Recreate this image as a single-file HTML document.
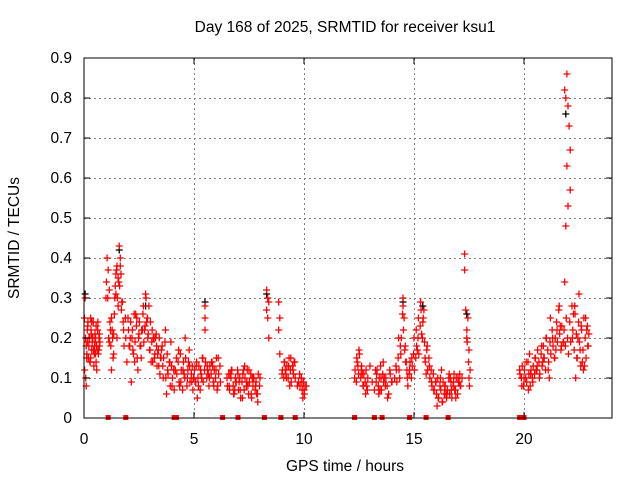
<!DOCTYPE html>
<html><head><meta charset="utf-8"><style>
body{margin:0;background:#fff;}
svg{display:block;font-family:"Liberation Sans",sans-serif;}
</style></head><body>
<svg id="chart" width="640" height="480">
<rect width="640" height="480" fill="#fff"/>
<g id="grid"></g><g id="marks"></g><g id="axes"></g>
<text x="345" y="32" font-size="15.5" text-anchor="middle">Day 168 of 2025, SRMTID for receiver ksu1</text>
<text x="345" y="471" font-size="15.5" text-anchor="middle">GPS time / hours</text>
<text transform="translate(19,238) rotate(-90)" font-size="15.5" text-anchor="middle">SRMTID / TECUs</text>
</svg>
<script>
const xTicks=[0,5,10,15,20];
const yTicks=[0,0.1,0.2,0.3,0.4,0.5,0.6,0.7,0.8,0.9];
const redTimes=[0.05,0.1,0.15,0.2,0.25,0.3,0.35,0.4,0.45,0.5,0.55,0.6,0.65,0.7,0.08,0.18,0.28,0.38,0.48,0.58,0.68,0.12,0.32,0.52,
1.0,1.05,1.1,1.15,1.2,1.25,1.3,1.4,1.45,1.5,1.55,1.6,1.65,1.7,1.75,1.8,1.35,1.52,1.62,1.72,1.9,1.95,
2.0,2.1,2.2,2.3,2.4,2.5,2.6,2.7,2.8,2.9,3.0,3.1,3.2,3.3,3.4,2.15,2.35,2.55,2.75,2.95,3.15,3.35,2.05,2.45,2.85,3.25,
3.5,3.6,3.7,3.8,3.9,4.0,4.1,4.2,4.3,4.4,4.5,4.6,4.7,4.8,4.9,3.55,3.75,3.95,4.15,4.35,4.55,4.75,4.95,
5.0,5.1,5.2,5.3,5.4,5.5,5.5,5.5,5.6,5.7,5.8,5.9,6.0,6.1,6.2,5.15,5.35,5.65,5.85,6.05,
6.5,6.6,6.7,6.8,6.9,7.0,7.1,7.2,7.3,7.4,7.5,7.6,7.7,7.8,7.9,8.0,6.65,6.85,7.05,7.25,7.45,7.65,7.85,
8.3,8.3,8.35,8.35,8.4,8.4,8.85,8.85,8.9,8.9,9.0,9.1,9.2,9.3,9.4,9.5,9.6,9.7,9.8,9.9,10.0,10.1,9.15,9.35,9.55,9.75,9.95,
12.3,12.4,12.5,12.6,12.7,12.8,12.9,13.0,13.1,13.2,13.3,13.4,13.5,13.6,13.7,13.8,13.9,14.0,12.45,12.65,12.85,13.25,13.45,13.65,13.85,
14.2,14.3,14.4,14.5,14.5,14.55,14.6,14.7,14.8,14.9,15.0,15.1,15.2,15.3,15.4,15.45,15.5,15.6,15.7,15.8,14.35,14.65,15.15,15.35,15.55,
15.9,16.0,16.1,16.2,16.3,16.4,16.5,16.6,16.7,16.8,16.9,17.0,17.1,16.05,16.25,16.45,16.65,16.85,17.05,
17.3,17.3,17.35,17.4,17.4,17.45,17.5,17.5,17.55,
19.8,19.9,20.0,20.1,20.2,20.3,20.4,20.5,20.6,20.7,20.8,20.9,21.0,21.1,21.2,21.3,21.4,21.5,21.6,21.7,20.25,20.55,20.85,21.15,21.45,21.65,
21.8,21.85,21.9,21.9,21.95,21.95,22.0,22.0,22.05,22.1,22.1,21.85,
22.2,22.3,22.4,22.5,22.6,22.7,22.8,22.9,22.25,22.45,22.65,22.85,22.35,22.55,22.75];
const redValues=[0.3,0.18,0.22,0.15,0.2,0.25,0.17,0.2,0.13,0.19,0.23,0.17,0.16,0.21,0.1,0.24,0.14,0.2,0.18,0.12,0.2,0.15,0.22,0.16,
0.3,0.4,0.37,0.32,0.22,0.25,0.2,0.3,0.36,0.38,0.35,0.43,0.4,0.27,0.29,0.22,0.16,0.3,0.33,0.29,0.2,0.14,
0.25,0.2,0.22,0.14,0.25,0.21,0.15,0.28,0.31,0.2,0.17,0.22,0.15,0.18,0.13,0.09,0.26,0.18,0.22,0.28,0.2,0.16,0.18,0.12,0.24,0.2,
0.15,0.1,0.22,0.12,0.14,0.08,0.07,0.15,0.17,0.09,0.12,0.2,0.1,0.13,0.09,0.18,0.06,0.19,0.12,0.08,0.11,0.14,0.07,
0.1,0.13,0.08,0.12,0.15,0.28,0.22,0.25,0.13,0.1,0.14,0.08,0.12,0.15,0.09,0.05,0.1,0.11,0.13,0.07,
0.1,0.08,0.12,0.06,0.09,0.11,0.07,0.05,0.13,0.09,0.12,0.06,0.1,0.08,0.04,0.1,0.11,0.07,0.09,0.12,0.08,0.1,0.06,
0.32,0.27,0.3,0.25,0.29,0.2,0.29,0.22,0.25,0.16,0.11,0.14,0.1,0.13,0.15,0.12,0.1,0.08,0.11,0.09,0.07,0.08,0.12,0.08,0.14,0.09,0.05,
0.1,0.15,0.17,0.12,0.08,0.06,0.1,0.13,0.09,0.07,0.11,0.06,0.1,0.14,0.08,0.05,0.12,0.09,0.13,0.11,0.08,0.12,0.07,0.1,0.06,
0.12,0.2,0.16,0.3,0.28,0.25,0.18,0.1,0.12,0.15,0.2,0.22,0.25,0.29,0.24,0.27,0.15,0.18,0.13,0.09,0.1,0.14,0.17,0.21,0.11,
0.07,0.09,0.05,0.1,0.04,0.08,0.06,0.11,0.07,0.09,0.05,0.1,0.08,0.03,0.12,0.06,0.1,0.07,0.09,
0.41,0.37,0.27,0.22,0.2,0.25,0.17,0.1,0.12,
0.12,0.08,0.1,0.14,0.07,0.11,0.09,0.15,0.13,0.1,0.18,0.15,0.2,0.12,0.25,0.2,0.15,0.22,0.28,0.18,0.16,0.12,0.14,0.1,0.17,0.23,
0.19,0.34,0.8,0.48,0.86,0.63,0.78,0.53,0.73,0.67,0.57,0.82,
0.2,0.28,0.15,0.31,0.23,0.12,0.25,0.18,0.26,0.2,0.14,0.22,0.1,0.17,0.13];
const extraTimes=[0.02,0.07,0.13,0.17,0.22,0.27,0.33,0.37,0.42,0.47,0.53,0.57,0.62,0.67,0.72,0.03,0.23,0.43,0.63,0.1,0.3,0.5,0.7,0.15,0.35,0.55,
1.02,1.08,1.12,1.18,1.22,1.28,1.32,1.38,1.42,1.48,1.58,1.68,1.78,1.82,1.88,1.15,1.35,1.45,1.55,1.65,1.25,1.5,
2.02,2.08,2.12,2.18,2.22,2.28,2.32,2.38,2.42,2.48,2.52,2.58,2.62,2.68,2.72,2.78,2.82,2.88,2.92,2.98,3.02,3.08,3.12,3.18,3.22,3.28,3.32,3.38,3.42,3.48,2.25,2.65,3.05,3.45,
3.52,3.58,3.62,3.68,3.72,3.78,3.82,3.88,3.92,3.98,4.02,4.08,4.22,4.28,4.32,4.38,4.42,4.48,4.52,4.58,4.62,4.68,4.72,4.78,4.82,4.88,4.92,4.98,
5.02,5.08,5.12,5.18,5.22,5.28,5.32,5.38,5.42,5.48,5.52,5.58,5.62,5.68,5.72,5.78,5.82,5.88,5.92,5.98,6.02,6.08,6.12,6.18,
6.52,6.58,6.62,6.68,6.72,6.78,6.82,6.88,6.92,6.98,7.02,7.08,7.12,7.18,7.22,7.28,7.32,7.38,7.42,7.48,7.52,7.58,7.62,7.68,7.72,7.78,7.82,7.88,7.92,7.98,
9.02,9.08,9.12,9.18,9.22,9.28,9.32,9.38,9.42,9.48,9.52,9.58,9.82,9.88,9.92,9.98,10.02,10.08,
12.32,12.38,12.42,12.48,12.52,12.58,12.62,12.68,12.72,12.78,12.82,12.88,13.28,13.32,13.38,13.42,13.48,13.52,13.58,13.62,13.72,13.78,13.92,13.98,
14.12,14.18,14.22,14.28,14.32,14.38,14.42,14.48,14.52,14.58,14.62,14.68,14.72,14.78,14.82,14.88,14.92,14.98,15.02,15.08,15.12,15.18,15.22,15.28,15.32,15.38,15.42,15.48,15.52,15.58,15.62,15.68,15.72,15.78,
15.82,15.88,15.92,15.98,16.02,16.08,16.12,16.18,16.22,16.28,16.32,16.38,16.42,16.48,16.52,16.58,16.62,16.68,16.72,16.78,16.82,16.88,16.92,16.98,17.02,17.08,17.12,17.18,17.42,17.48,17.52,
19.82,19.88,19.92,19.98,20.02,20.08,20.12,20.18,20.22,20.28,20.32,20.38,20.42,20.48,20.52,20.58,20.62,20.68,20.72,20.78,20.82,20.88,20.92,20.98,21.02,21.08,21.12,21.18,21.22,21.28,21.32,21.38,21.42,21.48,21.52,21.58,21.62,21.68,21.72,21.78,
21.82,21.88,21.92,21.98,22.02,22.08,22.12,22.18,22.22,22.28,22.32,22.38,22.42,22.48,22.52,22.58,22.62,22.68,22.72,22.78,22.82,22.88,22.92,22.95];
const extraValues=[0.25,0.2,0.16,0.23,0.18,0.14,0.21,0.19,0.24,0.16,0.2,0.18,0.22,0.17,0.19,0.12,0.2,0.17,0.24,0.08,0.15,0.21,0.18,0.19,0.24,0.14,
0.34,0.3,0.2,0.24,0.18,0.22,0.15,0.26,0.33,0.37,0.34,0.36,0.24,0.18,0.25,0.19,0.21,0.31,0.28,0.38,0.12,0.2,
0.22,0.18,0.24,0.2,0.17,0.26,0.19,0.23,0.15,0.2,0.24,0.18,0.22,0.26,0.19,0.23,0.3,0.25,0.21,0.17,0.24,0.19,0.14,0.2,0.16,0.21,0.13,0.17,0.2,0.15,0.16,0.22,0.14,0.11,
0.17,0.13,0.15,0.19,0.1,0.16,0.11,0.14,0.08,0.13,0.1,0.12,0.11,0.14,0.09,0.16,0.12,0.07,0.14,0.1,0.15,0.08,0.12,0.17,0.09,0.11,0.13,0.1,
0.12,0.09,0.14,0.1,0.13,0.07,0.11,0.15,0.09,0.12,0.14,0.1,0.12,0.08,0.13,0.11,0.14,0.09,0.12,0.1,0.15,0.08,0.11,0.13,
0.08,0.11,0.07,0.1,0.12,0.08,0.06,0.1,0.09,0.12,0.07,0.1,0.05,0.09,0.11,0.07,0.1,0.08,0.12,0.06,0.09,0.11,0.05,0.08,0.1,0.07,0.09,0.06,0.11,0.08,
0.12,0.1,0.14,0.11,0.13,0.1,0.15,0.12,0.09,0.13,0.11,0.14,0.08,0.1,0.07,0.09,0.06,0.08,
0.12,0.09,0.14,0.11,0.16,0.1,0.13,0.08,0.11,0.09,0.12,0.07,0.09,0.12,0.08,0.1,0.13,0.07,0.11,0.09,0.1,0.08,0.11,0.09,
0.1,0.13,0.09,0.15,0.12,0.18,0.2,0.26,0.22,0.17,0.14,0.12,0.08,0.11,0.14,0.1,0.13,0.16,0.12,0.15,0.18,0.2,0.16,0.23,0.27,0.2,0.25,0.19,0.14,0.17,0.12,0.15,0.1,0.12,
0.08,0.11,0.07,0.09,0.06,0.1,0.05,0.08,0.07,0.04,0.09,0.06,0.08,0.05,0.07,0.1,0.06,0.09,0.05,0.08,0.11,0.07,0.1,0.06,0.09,0.11,0.08,0.1,0.19,0.14,0.08,
0.11,0.1,0.13,0.08,0.12,0.1,0.09,0.14,0.11,0.08,0.12,0.1,0.13,0.11,0.15,0.12,0.17,0.14,0.11,0.16,0.13,0.18,0.15,0.12,0.2,0.17,0.14,0.19,0.16,0.22,0.18,0.15,0.2,0.24,0.19,0.27,0.21,0.17,0.23,0.19,
0.22,0.18,0.25,0.2,0.16,0.24,0.19,0.28,0.22,0.17,0.26,0.21,0.15,0.24,0.19,0.13,0.22,0.17,0.25,0.2,0.15,0.23,0.18,0.21];
const blackTimes=[0.05,1.6,2.8,5.5,8.3,14.5,15.4,17.4,21.9,22.3];
const blackValues=[0.31,0.42,0.28,0.29,0.31,0.29,0.28,0.26,0.76,0.28];
const zeroTimes=[1.1,1.9,4.1,4.2,6.3,7.0,8.2,8.95,9.6,12.3,13.2,13.55,14.8,15.55,16.55,19.8,20.0];

const X=t=>84+t*22, Y=v=>418-v*400;
const NS='http://www.w3.org/2000/svg';
const mk=(tag,attrs,parent)=>{const e=document.createElementNS(NS,tag);for(const k in attrs)e.setAttribute(k,attrs[k]);parent.appendChild(e);return e;};
const grid=document.getElementById('grid'),marks=document.getElementById('marks'),axes=document.getElementById('axes');
xTicks.forEach(t=>{
  if(t>0){const g=mk('line',{x1:X(t)+0.5,x2:X(t)+0.5,y1:58,y2:418,stroke:'#808080','stroke-width':1,'stroke-dasharray':'2,3'},grid);
  
  }
  const tk=mk('line',{x1:X(t),x2:X(t),y1:418,y2:412,stroke:'#000'},axes);
  
  
  mk('line',{x1:X(t),x2:X(t),y1:58,y2:64,stroke:'#000'},axes);
  const tx=mk('text',{x:X(t),y:444,'font-size':15.5,'text-anchor':'middle'},axes);tx.textContent=t;
  
  
});
yTicks.forEach(v=>{
  if(v>0&&v<0.9){const g=mk('line',{x1:84,x2:612,y1:Y(v)+0.5,y2:Y(v)+0.5,stroke:'#808080','stroke-width':1,'stroke-dasharray':'2,3'},grid);
  
  }
  mk('line',{x1:84,x2:90,y1:Y(v),y2:Y(v),stroke:'#000'},axes);
  mk('line',{x1:606,x2:612,y1:Y(v),y2:Y(v),stroke:'#000'},axes);
  const tx=mk('text',{x:72,y:Y(v)+5,'font-size':15.5,'text-anchor':'end'},axes);tx.textContent=v===0?'0':v.toFixed(1);
  
  
});
const frame=mk('rect',{x:84,y:58,width:528,height:360,fill:'none',stroke:'#000'},axes);


function plus(t,v,c,name){
  const x=X(t),y=Y(v);
  const p=mk('path',{d:`M${x-3.5},${y}h7M${x},${y-3.5}v7`,stroke:c,'stroke-width':1.3,fill:'none'},marks);
  
  
}
blackTimes.forEach((t,i)=>plus(t,blackValues[i],'#000','black-point'));
extraTimes.forEach((t,i)=>plus(t,extraValues[i],'#f00','red-point'));
redTimes.forEach((t,i)=>plus(t,redValues[i],'#f00','red-point'));
zeroTimes.forEach(t=>{
  const r=mk('rect',{x:X(t)-2.5,y:415,width:5,height:5,fill:'#f00'},marks);
  
  
});
</script>
</body></html>
